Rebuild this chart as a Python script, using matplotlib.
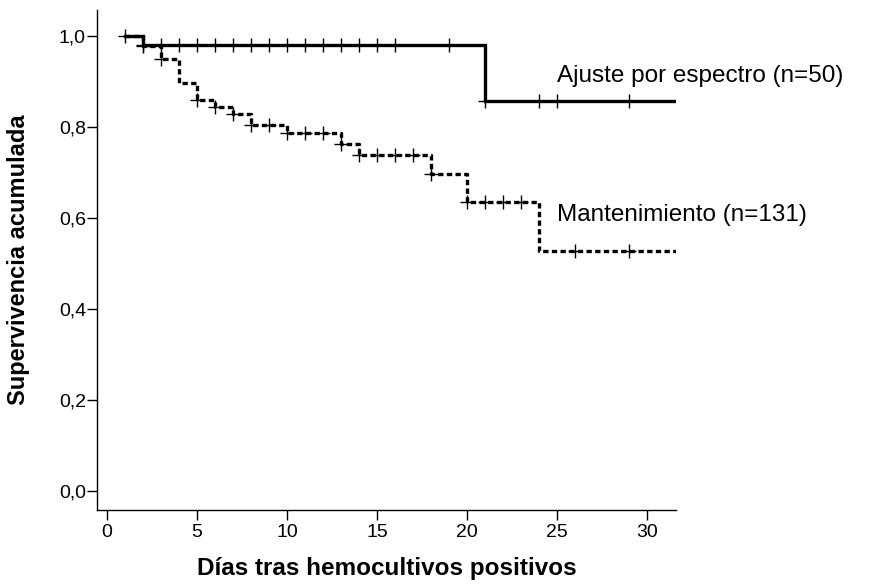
import numpy as np
import matplotlib
matplotlib.use("Agg")
from matplotlib import pyplot as plt

plt.rcParams['font.family'] = ['Liberation Sans', 'DejaVu Sans']

# Kaplan-Meier steps (days, cumulative survival)
ajuste_t = [1, 2, 21]
ajuste_s = [1.0, 0.98, 0.8575]
ajuste_cens = [1, 2, 3, 4, 5, 6, 7, 8, 9, 10, 11, 12, 13, 14, 15, 16, 19, 21, 24, 25, 29]

mant_t = [1, 2, 3, 4, 5, 6, 7, 8, 10, 13, 14, 18, 20, 24]
mant_s = [1.0, 0.977, 0.95, 0.897, 0.86, 0.843, 0.829, 0.805, 0.787,
          0.763, 0.739, 0.697, 0.634, 0.528]
mant_cens = [2, 3, 5, 6, 7, 8, 9, 10, 11, 12, 13, 14, 15, 16, 17, 18,
             20, 21, 22, 23, 26, 29]

end_time = 31.6
labels = ['Ajuste por espectro (n=50)', 'Mantenimiento (n=131)']
label_y = [0.913, 0.607]


def step_value(times, surv, x):
    idx = np.searchsorted(times, x, side='right') - 1
    return np.array(surv)[idx]


fig = plt.figure(figsize=(8.75, 5.88), dpi=100)
ax = fig.add_axes([97 / 875, 1 - 510 / 588, (676 - 97) / 875, 500 / 588])

for t, s, cens, ls in [(ajuste_t, ajuste_s, ajuste_cens, '-'),
                       (mant_t, mant_s, mant_cens, (0, (1.6, 1.0)))]:
    tt = list(t) + [end_time]
    ss = list(s) + [s[-1]]
    ax.step(tt, ss, where='post', color='black', lw=2.4, linestyle=ls,
            solid_joinstyle='miter')
    cx = np.array(cens, dtype=float)
    ax.plot(cx, step_value(t, s, cx), linestyle='none', marker='+',
            color='black', markersize=10, markeredgewidth=1.0)

for txt, y in zip(labels, label_y):
    ax.text(25.0, y, txt, fontsize=17.5, va='center', ha='left', clip_on=False)

ax.set_xlim(-0.56, end_time)
ax.set_ylim(-0.042, 1.057)
ax.set_xticks([0, 5, 10, 15, 20, 25, 30])
ax.set_yticks([0.0, 0.2, 0.4, 0.6, 0.8, 1.0])
ax.set_yticklabels([f'{v:.1f}'.replace('.', ',') for v in [0.0, 0.2, 0.4, 0.6, 0.8, 1.0]])
ax.tick_params(labelsize=14, length=7, width=1, direction='out')
ax.tick_params(axis='y', pad=1)
ax.tick_params(axis='x', pad=3)
for side in ['top', 'right']:
    ax.spines[side].set_visible(False)
for side in ['left', 'bottom']:
    ax.spines[side].set_linewidth(1)

ax.set_xlabel('Días tras hemocultivos positivos', fontsize=17.5, fontweight='bold')
ax.set_ylabel('Supervivencia acumulada', fontsize=17, fontweight='bold')
ax.xaxis.set_label_coords(0.5, -(568 - 510) / 500, transform=ax.transAxes)
ax.yaxis.set_label_coords(-(97 - 19) / 579, 0.5, transform=ax.transAxes)
ax.xaxis.label.set_va('center')
ax.yaxis.label.set_va('center')

fig.savefig('out.png', dpi=100)
